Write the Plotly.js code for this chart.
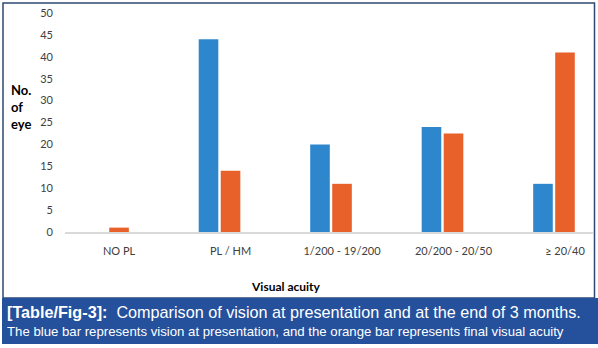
<!DOCTYPE html>
<html>
<head>
<meta charset="utf-8">
<script src="https://cdn.plot.ly/plotly-3.0.1.min.js"></script>
<style>
html,body{margin:0;padding:0;background:#fff;}
#chart{width:598px;height:348px;}
</style>
</head>
<body>
<div id="chart"></div>
<script>
// Data
const categories = ["NO PL", "PL / HM", "1/200 - 19/200", "20/200 - 20/50", "\u2265 20/40"];
const atPresentation = [0, 44, 20, 24, 11];
const finalAcuity = [1, 14, 11, 22.5, 41];
const yTicks = [0, 5, 10, 15, 20, 25, 30, 35, 40, 45, 50];

const W = 598, H = 348;
const L = 65, R = 593, T = 13, B = 232;
const px = x => (x - L) / (R - L);
const py = y => (B - y) / (B - T);

const blue = "#2e87cc";
const orange = "#e8602a";
const band = "#24509c";
const borderCol = "#2c4a72";
const font = "Lato, 'Open Sans', sans-serif";

const traces = [
  {type: "bar", x: categories, y: atPresentation, marker: {color: blue}, name: "At presentation"},
  {type: "bar", x: categories, y: finalAcuity, marker: {color: orange}, name: "Final"}
];

const layout = {
  width: W, height: H,
  margin: {l: L, r: W - R, t: T, b: H - B, pad: 0},
  paper_bgcolor: "#fff", plot_bgcolor: "#fff",
  showlegend: false,
  barmode: "group",
  bargap: 0.605,
  bargroupgap: 0.11,
  xaxis: {
    type: "category",
    range: [-0.386, 4.35],
    showline: true, linecolor: "#d9d9d9", linewidth: 1.5,
    showgrid: false, zeroline: false,
    ticks: "",
    tickfont: {family: font, size: 11, color: "#404040"},
    ticklabelshift: 11,
    ticklabelstandoff: 8
  },
  yaxis: {
    range: [0, 50],
    tickvals: yTicks,
    showgrid: false, zeroline: false, showline: false,
    ticks: "",
    tickfont: {family: font, size: 11, color: "#404040"},
    ticklabelstandoff: 11
  },
  shapes: [
    {type: "rect", xref: "paper", yref: "paper", x0: px(3), x1: px(594.5), y0: py(3), y1: py(298),
     line: {color: borderCol, width: 1.5}, fillcolor: "rgba(0,0,0,0)", layer: "above"},
    {type: "rect", xref: "paper", yref: "paper", x0: px(2), x1: px(598), y0: py(298), y1: py(344),
     line: {width: 0}, fillcolor: band, layer: "above"}
  ],
  annotations: [
    {xref: "paper", yref: "paper", x: px(9), y: py(107), xanchor: "left", yanchor: "middle",
     align: "left", showarrow: false,
     text: "<b>No.<br>of<br>eye</b>", font: {family: font, size: 13, color: "#000"}},
    {xref: "paper", yref: "paper", x: px(286), y: py(286), xanchor: "center", yanchor: "middle",
     showarrow: false, text: "<b>Visual acuity</b>", font: {family: font, size: 12, color: "#000"}},
    {xref: "paper", yref: "paper", x: px(5), y: py(312), xanchor: "left", yanchor: "middle",
     showarrow: false,
     text: "<b>[Table/Fig-3]:</b>  Comparison of vision at presentation and at the end of 3 months.",
     font: {family: "'Liberation Sans', Arial, sans-serif", size: 16.2, color: "#fff"}},
    {xref: "paper", yref: "paper", x: px(5), y: py(331), xanchor: "left", yanchor: "middle",
     showarrow: false,
     text: "The blue bar represents vision at presentation, and the orange bar represents final visual acuity",
     font: {family: "'Liberation Sans', Arial, sans-serif", size: 13.2, color: "#fff"}}
  ]
};

Plotly.newPlot("chart", traces, layout, {staticPlot: true, displayModeBar: false});
</script>
</body>
</html>
